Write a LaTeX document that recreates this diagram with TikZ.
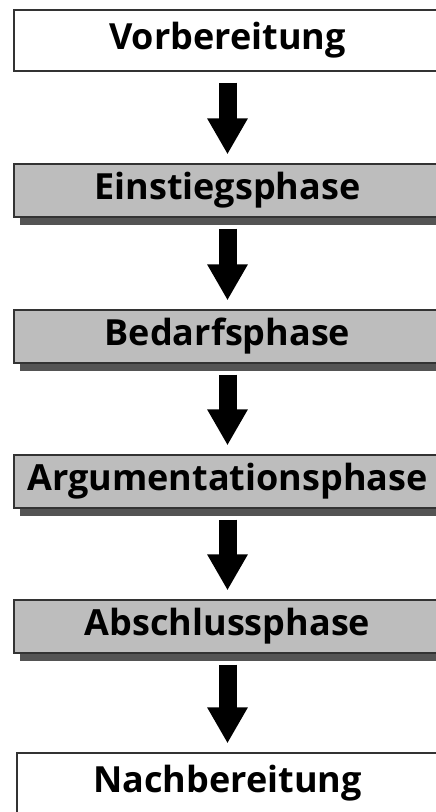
\documentclass[tikz,border=0pt]{standalone}
\usepackage{fontspec}
\setmainfont{Open Sans}
\usetikzlibrary{arrows.meta,shadows}

\begin{document}
\begin{tikzpicture}[x=1pt,y=1pt,
    step box/.style={draw=black!80, line width=1.2pt, fill=white, inner sep=0pt,
      minimum width=427pt, minimum height=61pt,
      font=\fontsize{36}{40}\selectfont\bfseries},
    phase box/.style={step box, fill=black!26, minimum height=53pt,
      drop shadow={shadow xshift=6pt, shadow yshift=-8pt, fill=black!67, opacity=1}},
    flow/.style={line width=18pt, -{Triangle[width=38pt,length=36pt]},
      shorten <=11pt, shorten >=9pt}]
  \useasboundingbox (0,0) rectangle (436,-812);

  \node[step box] (Vorbereitung) at (227.5,-40.5) {Vorbereitung};
  \node[phase box] (Einstieg) at (227.5,-190.5) {Einstiegsphase};
  \node[phase box] (Bedarf) at (227.5,-336.5) {Bedarfsphase};
  \node[phase box] (Argumentation) at (227.5,-481.5) {Argumentationsphase};
  \node[phase box] (Abschluss) at (227.5,-626.5) {Abschlussphase};
  \node[step box, minimum width=421pt] (Nachbereitung) at (227.5,-783.5) {Nachbereitung};

  \draw[flow] (Vorbereitung) to (Einstieg);
  \draw[flow] (Einstieg) to (Bedarf);
  \draw[flow] (Bedarf) to (Argumentation);
  \draw[flow] (Argumentation) to (Abschluss);
  \draw[flow] (Abschluss) to (Nachbereitung);
\end{tikzpicture}
\end{document}
